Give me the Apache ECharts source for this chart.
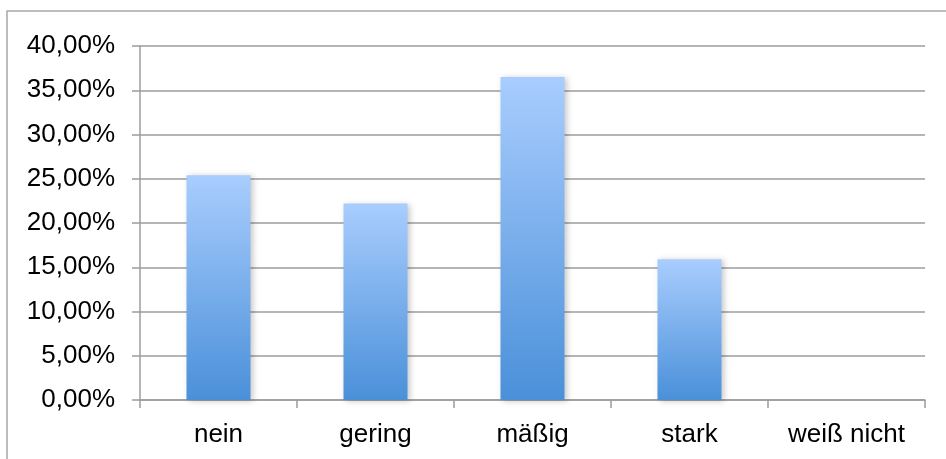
<!DOCTYPE html>
<html>
<head>
<meta charset="utf-8">
<script src="https://cdn.jsdelivr.net/npm/echarts@6/dist/echarts.min.js"></script>
<style>
  html, body { margin: 0; padding: 0; background: #fff; }
  #chart { width: 946px; height: 459px; }
</style>
</head>
<body>
<div id="chart"></div>
<script>
// Antwortkategorien und Anteile in Prozent
var categories = ['nein', 'gering', 'mäßig', 'stark', 'weiß nicht'];
var shares = [25.4, 22.2, 36.5, 15.9, 0];

// Skala der y-Achse (Prozent)
var yMin = 0;
var yMax = 40;
var yStep = 5;

var chart = echarts.init(document.getElementById('chart'), null, { renderer: 'canvas' });

var fontFamily = '"Liberation Sans", Arial, sans-serif';
var lineGray = '#9c9c9c';

chart.setOption({
  animation: false,
  backgroundColor: '#ffffff',
  graphic: [{
    type: 'rect',
    shape: { x: 7, y: 11, width: 1000, height: 500 },
    style: { fill: 'none', stroke: '#a8a8a8', lineWidth: 1.5 },
    silent: true
  }],
  grid: { left: 140, right: 21, top: 46, bottom: 59 },
  xAxis: {
    type: 'category',
    data: categories,
    boundaryGap: true,
    axisLine: { show: true, lineStyle: { color: lineGray, width: 1.5 } },
    axisTick: { show: true, interval: 0, length: 8, lineStyle: { color: lineGray, width: 1.5 } },
    axisLabel: { color: '#000', fontSize: 26, fontFamily: fontFamily, margin: 22, interval: 0 },
    splitLine: { show: false }
  },
  yAxis: {
    type: 'value',
    min: yMin,
    max: yMax,
    interval: yStep,
    axisLine: { show: true, lineStyle: { color: lineGray, width: 1.5 } },
    axisTick: { show: true, length: 8, lineStyle: { color: lineGray, width: 1.5 } },
    axisLabel: {
      color: '#000', fontSize: 26, fontFamily: fontFamily, margin: 25,
      formatter: function (v) { return v.toFixed(2).replace('.', ',') + '%'; }
    },
    splitLine: { show: true, lineStyle: { color: lineGray, width: 1.5 } }
  },
  series: [{
    type: 'bar',
    data: shares,
    barWidth: 64,
    itemStyle: {
      color: new echarts.graphic.LinearGradient(0, 0, 0, 1, [
        { offset: 0, color: '#a9cdfe' },
        { offset: 1, color: '#4a90d9' }
      ]),
      shadowBlur: 6,
      shadowOffsetX: 2,
      shadowOffsetY: 1,
      shadowColor: 'rgba(0,0,0,0.22)'
    }
  }]
});
</script>
</body>
</html>
